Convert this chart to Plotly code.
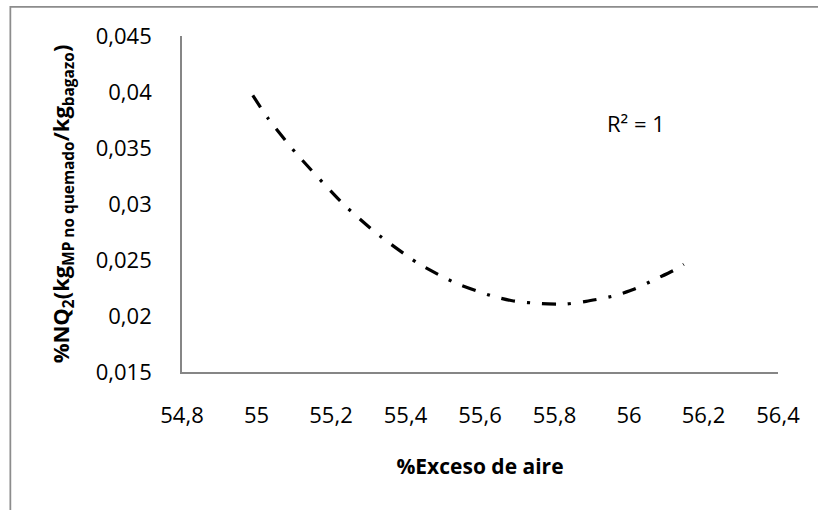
import plotly.graph_objects as go

# Values (trend curve, R² = 1)
x_exceso = [54.99, 55.031, 55.104, 55.231, 55.319, 55.431, 55.536, 55.632,
            55.690, 55.766, 55.829, 55.885, 55.959, 56.015, 56.068, 56.122, 56.147]
y_nq2 = [0.0397, 0.03765, 0.03462, 0.03006, 0.02747, 0.02476, 0.02292, 0.02179,
         0.02134, 0.02110, 0.02107, 0.02131, 0.02179, 0.02241, 0.02324, 0.02411, 0.02462]

x_tick_vals = [54.8, 55.0, 55.2, 55.4, 55.6, 55.8, 56.0, 56.2, 56.4]
x_tick_text = ["54,8", "55", "55,2", "55,4", "55,6", "55,8", "56", "56,2", "56,4"]
y_tick_vals = [0.015, 0.020, 0.025, 0.030, 0.035, 0.040, 0.045]
y_tick_text = ["0,015", "0,02", "0,025", "0,03", "0,035", "0,04", "0,045"]

x_title = "<b>%Exceso de aire</b>"
y_title = "<b>%NQ<sub>2</sub>(kg<sub>MP no quemado</sub>/kg<sub>bagazo</sub>)</b>"
r2_label = "R² = 1"

FONT = "Open Sans"
AXIS_GRAY = "#868686"

fig = go.Figure()
fig.add_trace(go.Scatter(
    x=x_exceso, y=y_nq2, mode="lines",
    line=dict(color="black", width=3.2, dash="14px,12px,3px,12px", shape="spline", smoothing=0.6),
    showlegend=False, hoverinfo="skip",
))

fig.update_layout(
    width=818, height=510,
    margin=dict(l=182, r=40, t=36, b=138),
    paper_bgcolor="white", plot_bgcolor="white",
    font=dict(family=FONT, color="black", size=22),
    showlegend=False,
    xaxis=dict(
        range=[54.8, 56.4], tickvals=x_tick_vals, ticktext=x_tick_text,
        showgrid=False, zeroline=False, showline=True, linecolor=AXIS_GRAY, linewidth=1.75,
        ticks="", ticklabelstandoff=23, automargin=False,
        tickfont=dict(family=FONT, size=22),
        title=dict(text=x_title, font=dict(family=FONT, size=21), standoff=31),
    ),
    yaxis=dict(
        range=[0.015, 0.045], tickvals=y_tick_vals, ticktext=y_tick_text,
        showgrid=False, zeroline=False, showline=True, linecolor=AXIS_GRAY, linewidth=1.75,
        ticks="", ticklabelstandoff=24, automargin=False,
        tickfont=dict(family=FONT, size=22),
        title=dict(text=y_title, font=dict(family=FONT, size=22), standoff=20),
    ),
    shapes=[dict(type="rect", xref="paper", yref="paper",
                 x0=-0.288, x1=1.3, y0=-0.6, y1=1.087,
                 line=dict(color="#8c8c8c", width=1.75), fillcolor="rgba(0,0,0,0)", layer="below")],
    annotations=[dict(text=r2_label, xref="paper", yref="paper", x=0.761, y=0.741,
                      showarrow=False, font=dict(family=FONT, size=22), xanchor="center", yanchor="middle")],
)

fig.write_html(
    "out.html",
    config={"displayModeBar": False},
    post_script="document.body.style.margin='0';document.body.style.overflow='hidden';",
)
